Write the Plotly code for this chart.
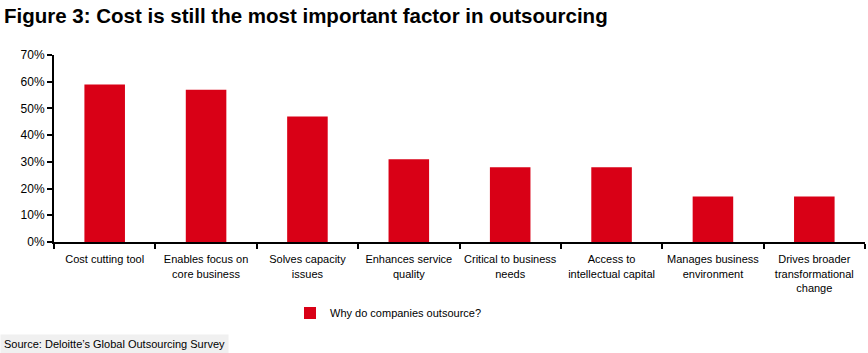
import plotly.graph_objects as go

categories = [
    "Cost cutting tool",
    "Enables focus on<br>core business",
    "Solves capacity<br>issues",
    "Enhances service<br>quality",
    "Critical to business<br>needs",
    "Access to<br>intellectual capital",
    "Manages business<br>environment",
    "Drives broader<br>transformational<br>change",
]
values = [0.59, 0.57, 0.47, 0.31, 0.28, 0.28, 0.17, 0.17]
series_name = "Why do companies outsource?"
y_ticks = [0, 0.1, 0.2, 0.3, 0.4, 0.5, 0.6, 0.7]
y_tick_labels = ["0%", "10%", "20%", "30%", "40%", "50%", "60%", "70%"]

W, H = 868, 353
L, R, T, B = 54, 3, 55, 111
plot_w = W - L - R
plot_h = H - T - B

fig = go.Figure()
fig.add_trace(go.Bar(
    x=categories, y=values, name=series_name,
    marker=dict(color="#D90016", line=dict(width=0)),
    showlegend=True,
))

regular = "Liberation Sans, Arial, sans-serif"

fig.update_layout(
    width=W, height=H,
    margin=dict(l=L, r=R, t=T, b=B, pad=0, autoexpand=False),
    paper_bgcolor="white", plot_bgcolor="white",
    bargap=0.6,
    font=dict(family=regular, size=11, color="black"),
    title=dict(
        text="<b>Figure 3: Cost is still the most important factor in outsourcing</b>",
        x=4 / W, xanchor="left", xref="container",
        y=1 - 16 / H, yanchor="middle", yref="container",
        font=dict(family=regular, size=20.5, color="black"),
    ),
    xaxis=dict(
        showline=True, linecolor="black", linewidth=2,
        ticks="outside", tickson="boundaries", ticklen=5, tickwidth=2, tickcolor="black",
        tickangle=0, automargin=False, ticklabelstandoff=6,
        tickfont=dict(size=11, family=regular),
        showgrid=False, zeroline=False,
    ),
    yaxis=dict(
        range=[0, 0.7], tickvals=y_ticks, ticktext=y_tick_labels,
        showline=True, linecolor="black", linewidth=2,
        ticks="outside", ticklen=5, tickwidth=2, tickcolor="black",
        automargin=False,
        tickfont=dict(size=12, family=regular),
        showgrid=False, zeroline=False,
    ),
    legend=dict(
        orientation="h",
        x=(290 - L) / plot_w, xanchor="left",
        y=-(313 - (H - B)) / plot_h, yanchor="middle",
        font=dict(size=11, family=regular),
        bgcolor="rgba(0,0,0,0)",
    ),
    annotations=[dict(
        text="Source: Deloitte’s Global Outsourcing Survey",
        xref="paper", yref="paper",
        x=-L / plot_w, xanchor="left",
        y=-(344 - (H - B)) / plot_h, yanchor="middle",
        showarrow=False, align="left",
        bgcolor="#F0F0F0", borderpad=3,
        font=dict(size=11, family=regular, color="black"),
    )],
)

fig.write_html("out.html")
